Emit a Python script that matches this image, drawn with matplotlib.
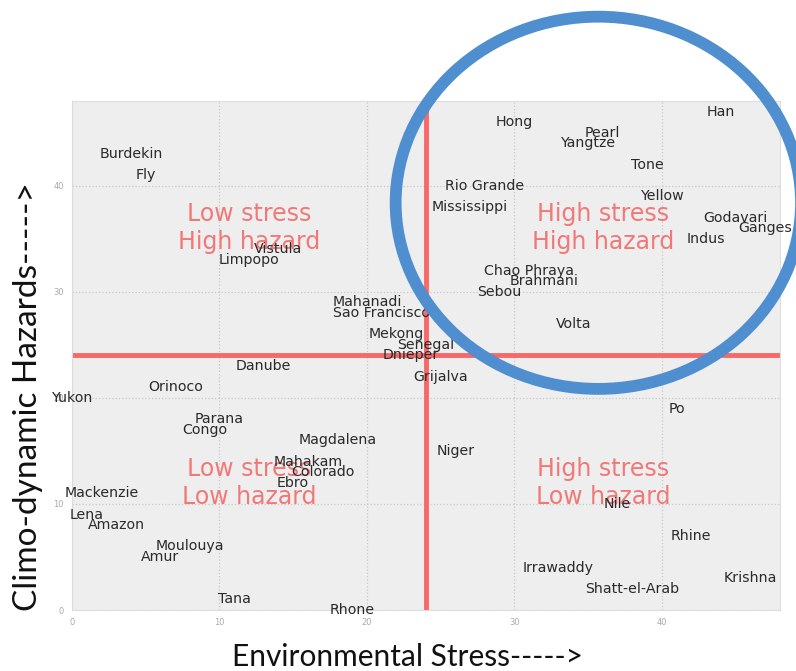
"""
River basins: environmental stress vs climo-dynamic hazards, split into four quadrants.
"""

import matplotlib
matplotlib.use("Agg")
import matplotlib.pyplot as plt
from matplotlib.patches import Ellipse

plt.rcParams["font.family"] = ["DejaVu Sans"]

rivers = [
    "Han", "Hong", "Pearl", "Yangtze", "Tone", "Rio Grande", "Yellow", "Mississippi",
    "Godavari", "Ganges", "Indus", "Chao Phraya", "Brahmani", "Sebou", "Volta",
    "Burdekin", "Fly", "Vistula", "Limpopo", "Mahanadi", "Sao Francisco", "Mekong",
    "Senegal", "Dnieper", "Danube", "Grijalva", "Orinoco", "Yukon", "Po", "Parana",
    "Congo", "Magdalena", "Niger", "Mahakam", "Colorado", "Ebro", "Mackenzie", "Nile",
    "Lena", "Amazon", "Rhine", "Moulouya", "Amur", "Irrawaddy", "Krishna",
    "Shatt-el-Arab", "Tana", "Rhone",
]
stress = [
    44, 30, 36, 35, 39, 28, 40, 27,
    45, 47, 43, 31, 32, 29, 34,
    4, 5, 14, 12, 20, 21, 22,
    24, 23, 13, 25, 7, 0, 41, 10,
    9, 18, 26, 16, 17, 15, 2, 37,
    1, 3, 42, 8, 6, 33, 46,
    38, 11, 19,
]
hazard = [
    47, 46, 45, 44, 42, 40, 39, 38,
    37, 36, 35, 32, 31, 30, 27,
    43, 41, 34, 33, 29, 28, 26,
    25, 24, 23, 22, 21, 20, 19, 18,
    17, 16, 15, 14, 13, 12, 11, 10,
    9, 8, 7, 6, 5, 4, 3,
    2, 1, 0,
]

threshold = 24
quadrants = [
    (12, 36, "Low stress\nHigh hazard"),
    (36, 36, "High stress\nHigh hazard"),
    (12, 12, "Low stress\nLow hazard"),
    (36, 12, "High stress\nLow hazard"),
]

fig = plt.figure(figsize=(7.96, 6.71), dpi=100)
ax = fig.add_axes([0.0905, 0.0909, 0.889, 0.7586])
ax.set_facecolor("#eeeeee")
for s in ax.spines.values():
    s.set_color("#dddddd")
ax.set_xlim(0, 48)
ax.set_ylim(0, 48)
ax.set_xticks([0, 10, 20, 30, 40])
ax.set_yticks([0, 10, 20, 30, 40])
ax.tick_params(length=0, labelsize=6, labelcolor="#aaaaaa", pad=6)
ax.grid(True, color="#c8c8c8", linestyle=":", linewidth=0.9)
ax.set_axisbelow(True)

# quadrant split
ax.axhline(threshold, color="#f86868", linewidth=3.5, zorder=2)
ax.plot([threshold, threshold], [0, 47], color="#f86868", linewidth=3.5, zorder=2)

for x, y, txt in quadrants:
    ax.text(x, y, txt, ha="center", va="center", fontsize=17,
            color="#f27878", zorder=3)

for name, x, y in zip(rivers, stress, hazard):
    ax.text(x, y, name, ha="center", va="center", fontsize=10.2,
            color="#2a2a2a", zorder=4)

# hand-drawn highlight around the high/high corner
ax.add_patch(Ellipse((35.7, 38.4), 27.5, 35.1, fill=False, edgecolor="#4f8fd0",
                     linewidth=8.5, clip_on=False, zorder=5))

fig.text(408 / 796, 1 - 657 / 671, "Environmental Stress----->", family=["Lato", "DejaVu Sans"],
         fontsize=21.5, ha="center", va="center", color="#111111")
fig.text(28 / 796, 1 - 397 / 671, "Climo-dynamic Hazards----->", family=["Lato", "DejaVu Sans"],
         fontsize=24, ha="center", va="center", rotation=90, color="#111111")

fig.savefig("out.png", dpi=100)
